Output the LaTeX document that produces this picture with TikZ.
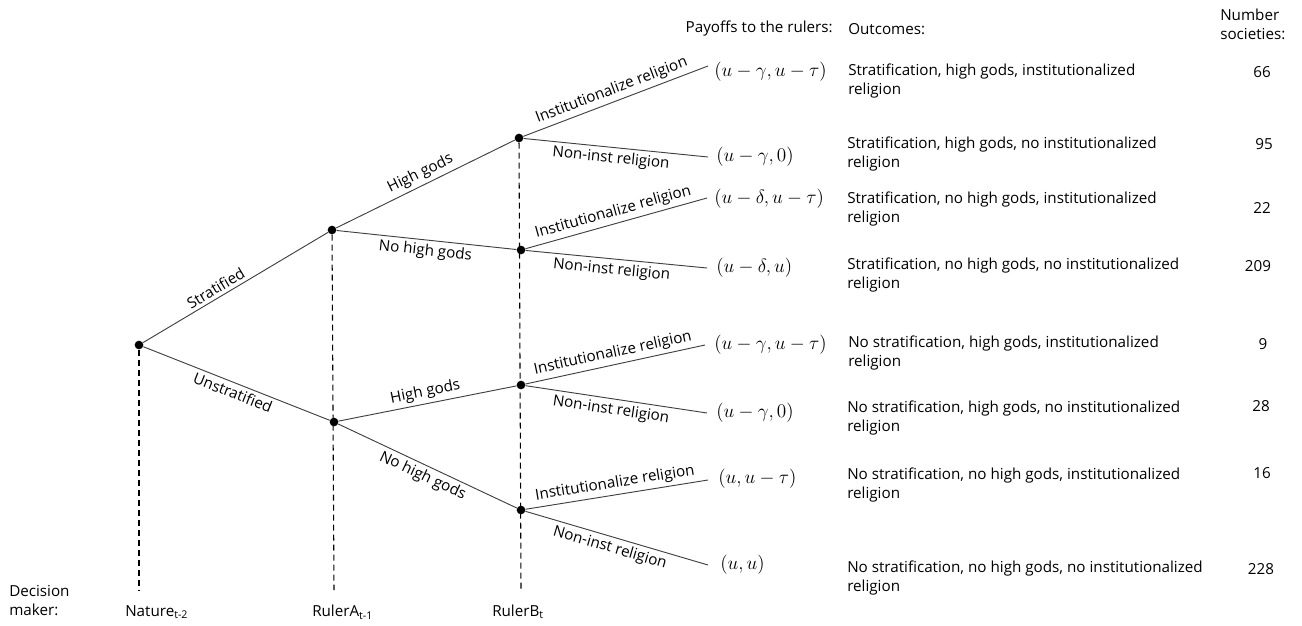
\documentclass[tikz,border=0pt]{standalone}
\usepackage{fontspec}
\setmainfont{Open Sans}
\tikzset{
	dot/.style={circle,fill=black,inner sep=0pt,minimum size=6.5pt},
	branch/.style={draw=black!75,line width=0.7pt},
	info/.style={dashed,line width=0.8pt,dash pattern=on 4.5pt off 3pt},
	lbl/.style={sloped,inner sep=2.5pt},
	outcome/.style={anchor=west,align=left,inner sep=0pt},
	payoff/.style={anchor=west,inner sep=0pt,font=\fontsize{14}{16}\selectfont},
	count/.style={inner sep=0pt}
}
\begin{document}
\begin{tikzpicture}[x=0.75pt,y=-0.75pt,every node/.append style={font=\fontsize{11.4}{14.25}\selectfont}]
	\useasboundingbox (0,0) rectangle (1302,625);
	%Decision nodes
		\node[dot] (N)  at (139,345) {};
		\node[dot] (A1) at (332,230) {};
		\node[dot] (A2) at (334,422) {};
		\node[dot] (B1) at (519,138) {};
		\node[dot] (B2) at (521,250) {};
		\node[dot] (B3) at (521,385) {};
		\node[dot] (B4) at (521,510) {};
	%Ends of the branches
		\coordinate (t1) at (708,66);
		\coordinate (t2) at (708,157);
		\coordinate (t3) at (707,198);
		\coordinate (t4) at (707,268);
		\coordinate (t5) at (705,345);
		\coordinate (t6) at (707,413);
		\coordinate (t7) at (708,480);
		\coordinate (t8) at (708,565);
	%Nature
		\draw[branch] (N) -- (A1) node[lbl,pos=0.42,above] {Stratified};
		\draw[branch] (N) -- (A2) node[lbl,midway,below] {Unstratified};
	%RulerA
		\draw[branch] (A1) -- (B1) node[lbl,midway,above] {High gods};
		\draw[branch] (A1) -- (B2) node[lbl,midway,below] {No high gods};
		\draw[branch] (A2) -- (B3) node[lbl,midway,above] {High gods};
		\draw[branch] (A2) -- (B4) node[lbl,midway,below] {No high gods};
	%RulerB
		\foreach \b/\u/\l in {B1/t1/t2, B2/t3/t4, B3/t5/t6, B4/t7/t8}{
			\draw[branch] (\b) -- (\u) node[lbl,midway,above] {Institutionalize religion};
			\draw[branch] (\b) -- (\l) node[lbl,pos=0.48,below] {Non-inst religion};
		}
	%Information lines
		\coordinate (Nb) at (139,590);
		\coordinate (Ab) at (334,590);
		\coordinate (Bb) at (521,590);
		\draw[info] (N) -- (Nb);
		\draw[info] (A1) -- (Ab);
		\draw[info] (B1) -- (Bb);
	%Decision makers
		\node[anchor=west,align=left,inner sep=0pt] (dm) at (9,601) {Decision\\maker:};
		\node[anchor=west,inner sep=0pt] (nat) at (125,612) {Nature\textsubscript{t-2}};
		\node[anchor=west,inner sep=0pt] (ra) at (312,612) {RulerA\textsubscript{t-1}};
		\node[anchor=west,inner sep=0pt] (rb) at (492,612) {RulerB\textsubscript{t}};
	%Headers
		\node[anchor=east,inner sep=0pt] (hp) at (833,29) {Payoffs to the rulers:};
		\node[anchor=west,inner sep=0pt] (ho) at (848,29) {Outcomes:};
		\node[anchor=west,align=left,inner sep=0pt] (hn) at (1220,24) {Number\\societies:};
	%Payoffs
		\node[payoff] (p1) at (714,72)  {$(u-\gamma,u-\tau)$};
		\node[payoff] (p2) at (716,157) {$(u-\gamma,0)$};
		\node[payoff] (p3) at (714,199) {$(u-\delta,u-\tau)$};
		\node[payoff] (p4) at (716,268) {$(u-\delta,u)$};
		\node[payoff] (p5) at (714,345) {$(u-\gamma,u-\tau)$};
		\node[payoff] (p6) at (716,413) {$(u-\gamma,0)$};
		\node[payoff] (p7) at (718,479) {$(u,u-\tau)$};
		\node[payoff] (p8) at (720,565) {$(u,u)$};
	%Outcomes
		\node[outcome] (o1) at (848,81.5)  {Stratification, high gods, institutionalized\\religion};
		\node[outcome] (o2) at (847,154.5) {Stratification, high gods, no institutionalized\\religion};
		\node[outcome] (o3) at (847,209.5) {Stratification, no high gods, institutionalized\\religion};
		\node[outcome] (o4) at (847,275.5) {Stratification, no high gods, no institutionalized\\religion};
		\node[outcome] (o5) at (848,353.5) {No stratification, high gods, institutionalized\\religion};
		\node[outcome] (o6) at (847,418.5) {No stratification, high gods, no institutionalized\\religion};
		\node[outcome] (o7) at (847,485.5) {No stratification, no high gods, institutionalized\\religion};
		\node[outcome] (o8) at (847,578.5) {No stratification, no high gods, no institutionalized\\religion};
	%Number of societies
		\node[count] (n1) at (1262,72)  {66};
		\node[count] (n2) at (1264,144) {95};
		\node[count] (n3) at (1262,208) {22};
		\node[count] (n4) at (1258,266) {209};
		\node[count] (n5) at (1263,344) {9};
		\node[count] (n6) at (1261,406) {28};
		\node[count] (n7) at (1262,473) {16};
		\node[count] (n8) at (1261,569) {228};
\end{tikzpicture}
\end{document}
